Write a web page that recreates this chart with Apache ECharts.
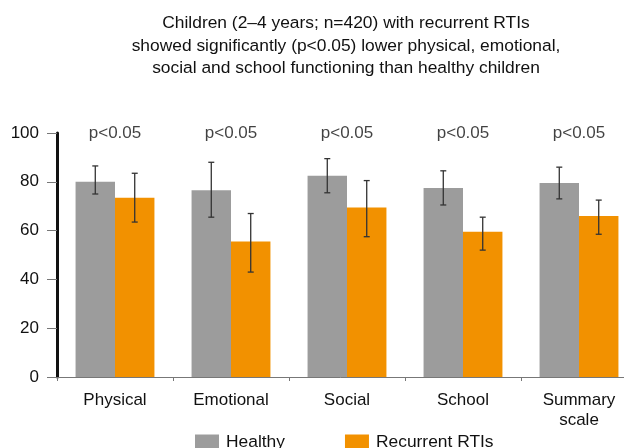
<!DOCTYPE html>
<html>
<head>
<meta charset="utf-8">
<script src="https://cdn.jsdelivr.net/npm/echarts@6/dist/echarts.min.js"></script>
<style>
html,body{margin:0;padding:0;background:#fff;}
#chart{width:624px;height:448px;}
</style>
</head>
<body>
<div id="chart"></div>
<script>
const categories = ['Physical', 'Emotional', 'Social', 'School', 'Summary\nscale'];
const healthy = [80, 76.5, 82.5, 77.5, 79.5];
const healthyLow = [75, 65.5, 75.5, 70.5, 73];
const healthyHigh = [86.5, 88, 89.5, 84.5, 86];
const rti = [73.5, 55.5, 69.5, 59.5, 66];
const rtiLow = [63.5, 43, 57.5, 52, 58.5];
const rtiHigh = [83.5, 67, 80.5, 65.5, 72.5];
const pLabels = ['p<0.05', 'p<0.05', 'p<0.05', 'p<0.05', 'p<0.05'];
const yTicks = [0, 20, 40, 60, 80, 100];
const titleText = 'Children (2\u20134 years; n=420) with recurrent RTIs\nshowed significantly (p<0.05) lower physical, emotional,\nsocial and school functioning than healthy children';

const FONT = 'Liberation Sans, Arial, sans-serif';
const TXT = '#111111';
const GAP = 0.32;

function errData(low, high) {
  return categories.map((c, i) => [i, low[i], high[i]]);
}

function errRender(sign) {
  return function (params, api) {
    const i = api.value(0);
    const lo = api.coord([i, api.value(1)]);
    const hi = api.coord([i, api.value(2)]);
    const band = api.size([1, 0])[0];
    const bw = band * (1 - GAP) / 2;
    const x = lo[0] + sign * bw / 2;
    const cap = 3;
    const style = { stroke: '#333', lineWidth: 1.3, fill: null };
    return {
      type: 'group',
      children: [
        { type: 'line', shape: { x1: x, y1: lo[1], x2: x, y2: hi[1] }, style: style },
        { type: 'line', shape: { x1: x - cap, y1: lo[1], x2: x + cap, y2: lo[1] }, style: style },
        { type: 'line', shape: { x1: x - cap, y1: hi[1], x2: x + cap, y2: hi[1] }, style: style }
      ]
    };
  };
}

const chart = echarts.init(document.getElementById('chart'), null, { renderer: 'canvas' });
chart.setOption({
  backgroundColor: '#ffffff',
  animation: false,
  title: {
    text: titleText,
    left: 341,
    textAlign: 'center',
    top: 7,
    textStyle: { fontFamily: FONT, fontSize: 17.4, fontWeight: 'normal', color: TXT, lineHeight: 22.5 }
  },
  legend: {
    left: 190,
    top: 429,
    itemWidth: 24,
    itemHeight: 16,
    itemGap: 60,
    icon: 'rect',
    textStyle: { fontFamily: FONT, fontSize: 17.4, color: TXT, padding: [0, 0, 0, 2] },
    data: ['Healthy', 'Recurrent RTIs']
  },
  grid: { left: 57, right: -13, top: 133, bottom: 71, containLabel: false, outerBoundsMode: 'none' },
  xAxis: {
    type: 'category',
    data: categories,
    axisLine: { lineStyle: { color: '#777', width: 1 } },
    axisTick: { show: true, length: 4, lineStyle: { color: '#777' } },
    axisLabel: { fontFamily: FONT, fontSize: 17, color: TXT, margin: 13, lineHeight: 20 }
  },
  yAxis: {
    type: 'value',
    min: yTicks[0],
    max: yTicks[yTicks.length - 1],
    interval: 20,
    axisLine: { show: true, lineStyle: { color: '#111', width: 3 } },
    axisTick: { show: true, length: 10, lineStyle: { color: '#777', width: 1 } },
    splitLine: { show: false },
    axisLabel: { fontFamily: FONT, fontSize: 17, color: TXT, margin: 18 }
  },
  series: [
    {
      name: 'Healthy', type: 'bar', data: healthy, barGap: '0%', barCategoryGap: (GAP * 100) + '%',
      itemStyle: { color: '#9c9c9c' }
    },
    {
      name: 'Recurrent RTIs', type: 'bar', data: rti, barGap: '0%', barCategoryGap: (GAP * 100) + '%',
      itemStyle: { color: '#f29100' }
    },
    {
      type: 'custom', renderItem: errRender(-1), data: errData(healthyLow, healthyHigh),
      encode: { x: 0, y: [1, 2] }, z: 5, silent: true
    },
    {
      type: 'custom', renderItem: errRender(1), data: errData(rtiLow, rtiHigh),
      encode: { x: 0, y: [1, 2] }, z: 5, silent: true
    },
    {
      type: 'scatter', symbolSize: 0, silent: true,
      data: pLabels.map((p, i) => [i, 100]),
      label: {
        show: true, position: 'inside',
        formatter: (d) => pLabels[d.dataIndex],
        fontFamily: FONT, fontSize: 17, color: TXT
      }
    }
  ]
});
</script>
</body>
</html>
